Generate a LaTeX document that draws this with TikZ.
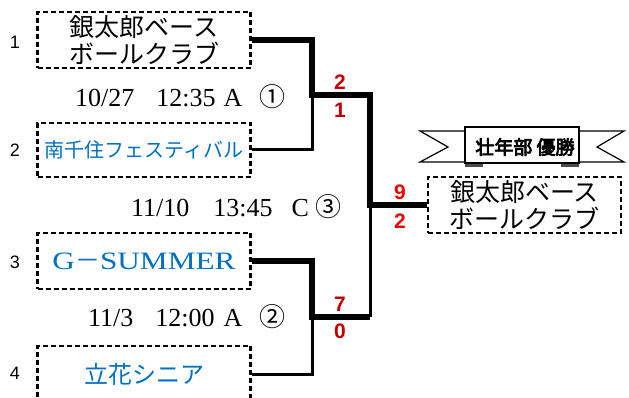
\documentclass[tikz,border=0pt]{standalone}
\usepackage{fontspec}
\setmainfont{Liberation Serif}
\newfontfamily\cjk{Noto Sans CJK JP}
\newfontfamily\cjkb[FakeBold=4]{Noto Sans CJK JP}
\newfontfamily\arial{Liberation Sans}
\definecolor{teamblue}{HTML}{0070C0}
\definecolor{scorered}{HTML}{C00000}
\definecolor{scorebright}{HTML}{F00000}
\tikzset{
  team/.style={draw,line width=2.4pt,dash pattern=on 5pt off 3pt,minimum width=213pt,
    minimum height=56pt,inner sep=0pt,align=center,font=\cjk\fontsize{25}{27}\selectfont},
  won/.style={line width=5.5pt},
  lost/.style={line width=3pt},
  score/.style={font=\arial\bfseries\fontsize{21}{21}\selectfont,inner sep=0pt},
  datum/.style={anchor=west,inner sep=0pt,font=\fontsize{26}{28}\selectfont}
}
\begin{document}
\begin{tikzpicture}[x=1pt,y=-1pt]
\useasboundingbox(0,0)rectangle(629,398);
% teams
\node[team](t1)at(144,40){銀太郎ベース\\ボールクラブ};
\node[team,minimum height=54pt,text=teamblue,font=\cjk\fontsize{20}{22}\selectfont](t2)at(144,150){南千住フェスティバル};
\node[team,text=teamblue,font=\addfontfeature{FakeStretch=1.25}\fontsize{25}{27}\selectfont](t3)at(144,261){G{\cjk －}SUMMER};
\node[team,text=teamblue,font=\cjk\fontsize{24}{26}\selectfont](t4)at(144,374){立花シニア};
\node[team,minimum width=193pt](champ)at(524.5,205){銀太郎ベース\\ボールクラブ};
\foreach \v/\y in {1/42,2/150,3/262,4/373}
  \node[font=\arial\fontsize{18}{18}\selectfont](n\v)at(15,\y){\v};
% bracket
\coordinate(m1)at(312,95);
\coordinate(m2)at(312,317);
\coordinate(f)at(370,205);
\draw[lost](t2.east)-|(m1);
\draw[lost](t4.east)-|(m2);
\draw[lost](m2-|f)--(f);
\draw[won](t1.east)-|(m1)-|(f)--(champ.west);
\draw[won](t3.east)-|(m2)--(m2-|f);
\foreach \v/\x/\y/\c in {2/340/82/scorered,1/340/110/scorered,9/400/192/scorebright,
  2/400/221/scorebright,7/340/304/scorered,0/340/331/scorered}
  \node[score,text=\c](s\x\y)at(\x,\y){\v};
% dates
\node[datum](d1)at(75,97){10/27\hspace{22pt}12:35\hspace{8pt}A\hspace{17pt}{\cjk ①}};
\node[datum](d3)at(131,207){11/10\hspace{24pt}13:45\hspace{19pt}C\hspace{6pt}{\cjk ③}};
\node[datum](d2)at(88,317){11/3\hspace{22pt}12:00\hspace{9pt}A\hspace{17pt}{\cjk ②}};
% banner
\draw[line width=1.2pt,fill=white](420,131)--(472,131)--(472,162)--(420,162)--(448,147)--cycle;
\draw[line width=1.2pt,fill=white](624,131)--(572,131)--(572,162)--(624,162)--(597,147)--cycle;
\fill[black!70](465,161)rectangle(483,167);
\fill[black!70](561,161)rectangle(579,167);
\draw[line width=1.2pt,fill=white](465,127)rectangle(579,163);
\node[font=\cjkb\fontsize{19}{19}\selectfont,inner sep=0pt](title)at(525,147){壮年部 優勝};
\end{tikzpicture}
\end{document}
